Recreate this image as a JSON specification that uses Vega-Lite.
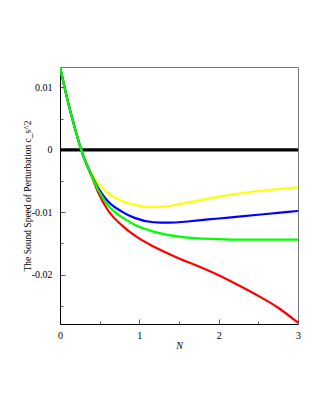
{
  "$schema": "https://vega.github.io/schema/vega-lite/v6.json",
  "width": 238,
  "height": 257,
  "autosize": "none",
  "padding": {"left": 60, "top": 67, "right": 25, "bottom": 94},
  "background": "white",
  "config": {
    "view": {"stroke": "#777", "strokeWidth": 1},
    "font": "Liberation Serif",
    "axis": {"grid": false, "domainColor": "black", "tickColor": "#555", "labelColor": "black", "titleColor": "black", "labelFont": "Liberation Serif", "titleFont": "Liberation Serif", "labelFontSize": 10, "titleFontSize": 9.5, "titleFontWeight": "normal"}
  },
  "datasets": {
    "zero": [{"N": 0, "v": 0}, {"N": 3, "v": 0}],
    "curves": [
      {"s": "red", "N": 0, "v": 0.0133}, {"s": "red", "N": 0.05, "v": 0.0104}, {"s": "red", "N": 0.1, "v": 0.0077}, {"s": "red", "N": 0.15, "v": 0.0052}, {"s": "red", "N": 0.2, "v": 0.0029}, {"s": "red", "N": 0.25, "v": 0.0007}, {"s": "red", "N": 0.3, "v": -0.0012}, {"s": "red", "N": 0.35, "v": -0.0028}, {"s": "red", "N": 0.4, "v": -0.0043}, {"s": "red", "N": 0.48, "v": -0.0068}, {"s": "red", "N": 0.6, "v": -0.0096}, {"s": "red", "N": 0.78, "v": -0.0121}, {"s": "red", "N": 0.94, "v": -0.0137}, {"s": "red", "N": 1.18, "v": -0.0155}, {"s": "red", "N": 1.5, "v": -0.0174}, {"s": "red", "N": 1.75, "v": -0.0187}, {"s": "red", "N": 2, "v": -0.0201}, {"s": "red", "N": 2.25, "v": -0.0217}, {"s": "red", "N": 2.5, "v": -0.0234}, {"s": "red", "N": 2.75, "v": -0.0253}, {"s": "red", "N": 3, "v": -0.0277},
      {"s": "yellow", "N": 0, "v": 0.0133}, {"s": "yellow", "N": 0.05, "v": 0.0104}, {"s": "yellow", "N": 0.1, "v": 0.0077}, {"s": "yellow", "N": 0.15, "v": 0.0052}, {"s": "yellow", "N": 0.2, "v": 0.0029}, {"s": "yellow", "N": 0.25, "v": 0.0007}, {"s": "yellow", "N": 0.3, "v": -0.0012}, {"s": "yellow", "N": 0.35, "v": -0.0027}, {"s": "yellow", "N": 0.4, "v": -0.0039}, {"s": "yellow", "N": 0.48, "v": -0.0054}, {"s": "yellow", "N": 0.6, "v": -0.0069}, {"s": "yellow", "N": 0.78, "v": -0.0082}, {"s": "yellow", "N": 0.94, "v": -0.0088}, {"s": "yellow", "N": 1.1, "v": -0.00915}, {"s": "yellow", "N": 1.3, "v": -0.0091}, {"s": "yellow", "N": 1.5, "v": -0.0087}, {"s": "yellow", "N": 1.75, "v": -0.0081}, {"s": "yellow", "N": 2, "v": -0.0075}, {"s": "yellow", "N": 2.25, "v": -0.0070}, {"s": "yellow", "N": 2.5, "v": -0.0066}, {"s": "yellow", "N": 2.75, "v": -0.0063}, {"s": "yellow", "N": 3, "v": -0.0060},
      {"s": "blue", "N": 0, "v": 0.0133}, {"s": "blue", "N": 0.05, "v": 0.0104}, {"s": "blue", "N": 0.1, "v": 0.0077}, {"s": "blue", "N": 0.15, "v": 0.0052}, {"s": "blue", "N": 0.2, "v": 0.0029}, {"s": "blue", "N": 0.25, "v": 0.0007}, {"s": "blue", "N": 0.3, "v": -0.0012}, {"s": "blue", "N": 0.35, "v": -0.0027}, {"s": "blue", "N": 0.4, "v": -0.0041}, {"s": "blue", "N": 0.48, "v": -0.0061}, {"s": "blue", "N": 0.6, "v": -0.0082}, {"s": "blue", "N": 0.78, "v": -0.0099}, {"s": "blue", "N": 0.94, "v": -0.0109}, {"s": "blue", "N": 1.18, "v": -0.0116}, {"s": "blue", "N": 1.35, "v": -0.01168}, {"s": "blue", "N": 1.5, "v": -0.0116}, {"s": "blue", "N": 1.75, "v": -0.0113}, {"s": "blue", "N": 2, "v": -0.0110}, {"s": "blue", "N": 2.25, "v": -0.0107}, {"s": "blue", "N": 2.5, "v": -0.0104}, {"s": "blue", "N": 2.75, "v": -0.0101}, {"s": "blue", "N": 3, "v": -0.0098},
      {"s": "green", "N": 0, "v": 0.0133}, {"s": "green", "N": 0.05, "v": 0.0104}, {"s": "green", "N": 0.1, "v": 0.0077}, {"s": "green", "N": 0.15, "v": 0.0052}, {"s": "green", "N": 0.2, "v": 0.0029}, {"s": "green", "N": 0.25, "v": 0.0007}, {"s": "green", "N": 0.3, "v": -0.0012}, {"s": "green", "N": 0.35, "v": -0.0027}, {"s": "green", "N": 0.4, "v": -0.0042}, {"s": "green", "N": 0.48, "v": -0.0064}, {"s": "green", "N": 0.6, "v": -0.0088}, {"s": "green", "N": 0.78, "v": -0.0108}, {"s": "green", "N": 0.94, "v": -0.0120}, {"s": "green", "N": 1.18, "v": -0.0131}, {"s": "green", "N": 1.5, "v": -0.0139}, {"s": "green", "N": 1.75, "v": -0.0142}, {"s": "green", "N": 2, "v": -0.0143}, {"s": "green", "N": 2.25, "v": -0.0144}, {"s": "green", "N": 2.5, "v": -0.0144}, {"s": "green", "N": 2.75, "v": -0.0144}, {"s": "green", "N": 3, "v": -0.0144}
    ]
  },
  "encoding": {
    "x": {"field": "N", "type": "quantitative", "scale": {"domain": [0, 3], "nice": false, "zero": false},
      "axis": {"title": "N", "titleFontStyle": "italic", "titleFontSize": 10, "titlePadding": -2,
        "values": [0, 0.5, 1, 1.5, 2, 2.5, 3],
        "labelExpr": "datum.value % 1 === 0 ? format(datum.value, 'd') : ''",
        "tickSize": {"condition": {"test": "datum.value % 1 === 0", "value": -5}, "value": -3},
        "labelPadding": 11, "labelFlush": false, "labelOverlap": false}},
    "y": {"field": "v", "type": "quantitative", "scale": {"domain": [-0.0279, 0.01326], "nice": false, "zero": false},
      "axis": {"title": "The Sound Speed of Perturbation  c_s^2", "titlePadding": -1,
        "values": [-0.025, -0.02, -0.015, -0.01, -0.005, 0, 0.005, 0.01],
        "labelExpr": "abs(datum.value*100 - round(datum.value*100)) < 1e-6 ? (datum.value == 0 ? '0' : (datum.value < 0 ? '-' : '') + format(abs(datum.value), '.2f')) : ''",
        "tickSize": {"condition": {"test": "abs(datum.value*100 - round(datum.value*100)) < 1e-6", "value": -5}, "value": -3},
        "labelPadding": 13, "labelFlush": false, "labelOverlap": false}}
  },
  "layer": [
    {"data": {"name": "zero"}, "mark": {"type": "line", "color": "black", "strokeWidth": 3.2, "clip": true}},
    {"data": {"name": "curves"}, "mark": {"type": "line", "strokeWidth": 2.2, "interpolate": "monotone", "clip": true},
      "encoding": {"color": {"field": "s", "type": "nominal", "legend": null,
        "scale": {"domain": ["red", "yellow", "blue", "green"], "range": ["#ff0000", "#ffff00", "#0000ff", "#00ff00"]}}}}
  ]
}
